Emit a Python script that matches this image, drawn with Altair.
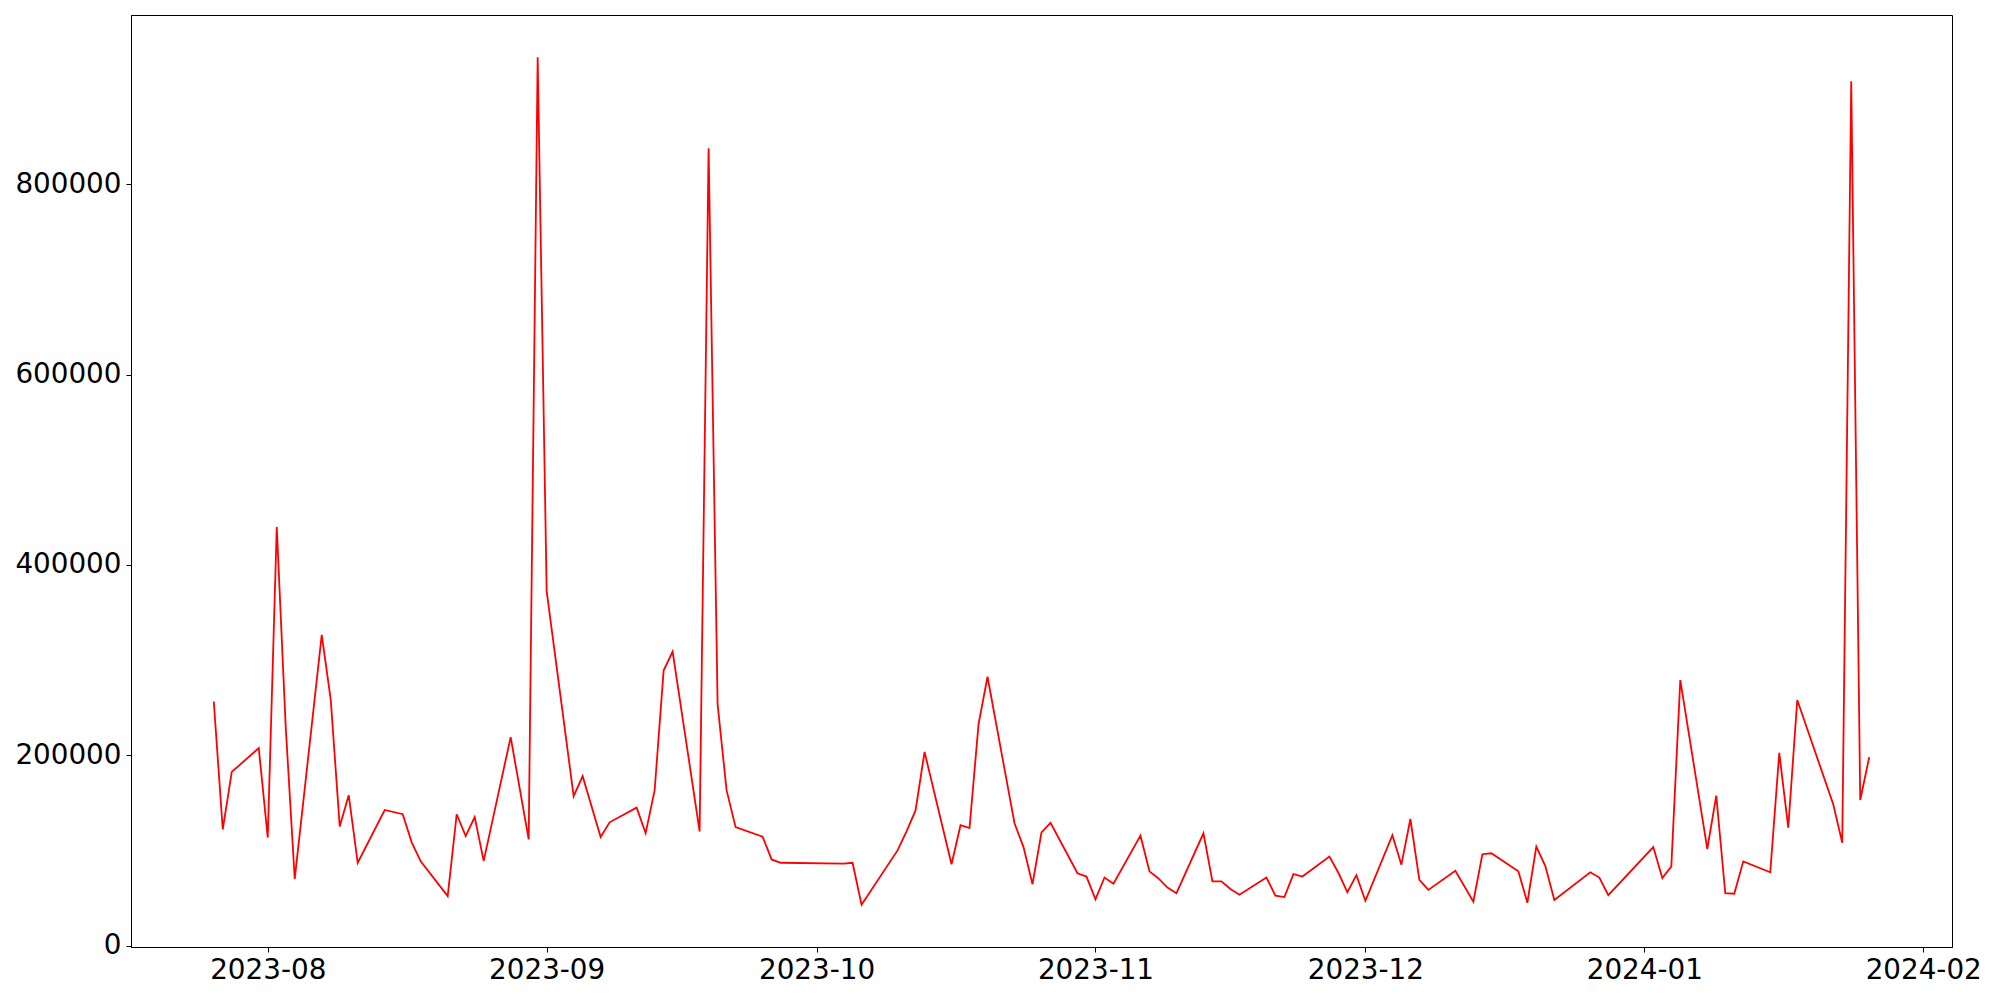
import altair as alt
import pandas as pd

dates = [
    "2023-07-26", "2023-07-27", "2023-07-28", "2023-07-31", "2023-08-01", "2023-08-02",
    "2023-08-03", "2023-08-04", "2023-08-07", "2023-08-08", "2023-08-09", "2023-08-10",
    "2023-08-11", "2023-08-14", "2023-08-16", "2023-08-17", "2023-08-18", "2023-08-21",
    "2023-08-22", "2023-08-23", "2023-08-24", "2023-08-25", "2023-08-28", "2023-08-30",
    "2023-08-31", "2023-09-01", "2023-09-04", "2023-09-05", "2023-09-07", "2023-09-08",
    "2023-09-11", "2023-09-12", "2023-09-13", "2023-09-14", "2023-09-15", "2023-09-18",
    "2023-09-19", "2023-09-20", "2023-09-21", "2023-09-22", "2023-09-25", "2023-09-26",
    "2023-09-27", "2023-10-04", "2023-10-05", "2023-10-06", "2023-10-10", "2023-10-11",
    "2023-10-12", "2023-10-13", "2023-10-16", "2023-10-17", "2023-10-18", "2023-10-19",
    "2023-10-20", "2023-10-23", "2023-10-24", "2023-10-25", "2023-10-26", "2023-10-27",
    "2023-10-30", "2023-10-31", "2023-11-01", "2023-11-02", "2023-11-03", "2023-11-06",
    "2023-11-07", "2023-11-08", "2023-11-09", "2023-11-10", "2023-11-13", "2023-11-14",
    "2023-11-15", "2023-11-16", "2023-11-17", "2023-11-20", "2023-11-21", "2023-11-22",
    "2023-11-23", "2023-11-24", "2023-11-27", "2023-11-28", "2023-11-29", "2023-11-30",
    "2023-12-01", "2023-12-04", "2023-12-05", "2023-12-06", "2023-12-07", "2023-12-08",
    "2023-12-11", "2023-12-13", "2023-12-14", "2023-12-15", "2023-12-18", "2023-12-19",
    "2023-12-20", "2023-12-21", "2023-12-22", "2023-12-26", "2023-12-27", "2023-12-28",
    "2024-01-02", "2024-01-03", "2024-01-04", "2024-01-05", "2024-01-08", "2024-01-09",
    "2024-01-10", "2024-01-11", "2024-01-12", "2024-01-15", "2024-01-16", "2024-01-17",
    "2024-01-18", "2024-01-22", "2024-01-23", "2024-01-24", "2024-01-25", "2024-01-26",
]

values = [
    256500, 122000, 182500, 207500, 113500, 440000,
    229000, 70000, 326500, 258500, 125000, 158000,
    87000, 142500, 138000, 108500, 88500, 52000,
    138000, 115000, 135000, 89000, 219000, 111500,
    933500, 372500, 157000, 178000, 114000, 129500,
    145000, 118000, 163000, 289000, 309000, 120000,
    838000, 253500, 163000, 124500, 114500, 90500,
    87000, 86000, 87000, 43000, 100000, 120000,
    142000, 203500, 85500, 126500, 123500, 232500,
    282500, 128500, 103500, 64500, 119000, 129000,
    76000, 72500, 48500, 71500, 65000, 115500,
    78000, 70500, 61000, 55000, 118000, 67500,
    67500, 59500, 53500, 71500, 52500, 51000,
    75000, 72500, 93500, 76500, 56000, 74000,
    47000, 116000, 85000, 133000, 69000, 58500,
    78500, 46000, 96000, 97000, 78000, 45000,
    104000, 83500, 48000, 77000, 71500, 53000,
    103500, 71000, 83000, 279000, 101500, 157500,
    55000, 54500, 88500, 77000, 202500, 124000,
    258000, 148500, 108000, 908500, 153000, 198000,
]

y_ticks = [0, 200000, 400000, 600000, 800000]
x_ticks = [(2023, 8), (2023, 9), (2023, 10), (2023, 11), (2023, 12), (2024, 1), (2024, 2)]

df = pd.DataFrame({"date": dates, "value": values})

# matplotlib-like 5% margins
ts = pd.to_datetime(df["date"])
span = ts.max() - ts.min()
x_lo = ts.min() - 0.05 * span
x_hi = ts.max() + 0.05 * span
to_ms = lambda t: int(t.value // 10**6)
vmin, vmax = min(values), max(values)
vr = vmax - vmin
y_lo = vmin - 0.05 * vr
y_hi = vmax + 0.05 * vr

FONT = "DejaVu Sans"

chart = (
    alt.Chart(df)
    .mark_line(color="#ff0000", strokeWidth=1.8)
    .encode(
        x=alt.X(
            "date:T",
            scale=alt.Scale(type="utc", domain=[to_ms(x_lo), to_ms(x_hi)], nice=False),
            axis=alt.Axis(
                title=None,
                values=[alt.DateTime(year=y, month=m, date=1, utc=True) for y, m in x_ticks],
                labelExpr="utcFormat(datum.value, '%Y-%m')",
                grid=False,
                labelFont=FONT,
                labelFontSize=27.8,
                labelColor="black",
                tickColor="black",
                tickSize=5,
                labelPadding=4,
                domainColor="black",
                labelFlush=False,
                labelOverlap=False,
            ),
        ),
        y=alt.Y(
            "value:Q",
            scale=alt.Scale(domain=[y_lo, y_hi], nice=False, zero=False),
            axis=alt.Axis(
                title=None,
                values=y_ticks,
                format="d",
                grid=False,
                labelFont=FONT,
                labelFontSize=27.8,
                labelColor="black",
                tickColor="black",
                tickSize=5,
                labelPadding=5,
                domainColor="black",
                labelFlush=False,
                labelOverlap=False,
            ),
        ),
    )
    .properties(
        width=1821,
        height=932,
        autosize=alt.AutoSizeParams(type="none"),
        padding={"left": 123, "top": 7, "right": 40, "bottom": 45},
        background="white",
    )
    .configure_view(stroke="black", strokeWidth=1)
)

chart.save("out.html", embed_options={"renderer": "svg", "actions": False})
